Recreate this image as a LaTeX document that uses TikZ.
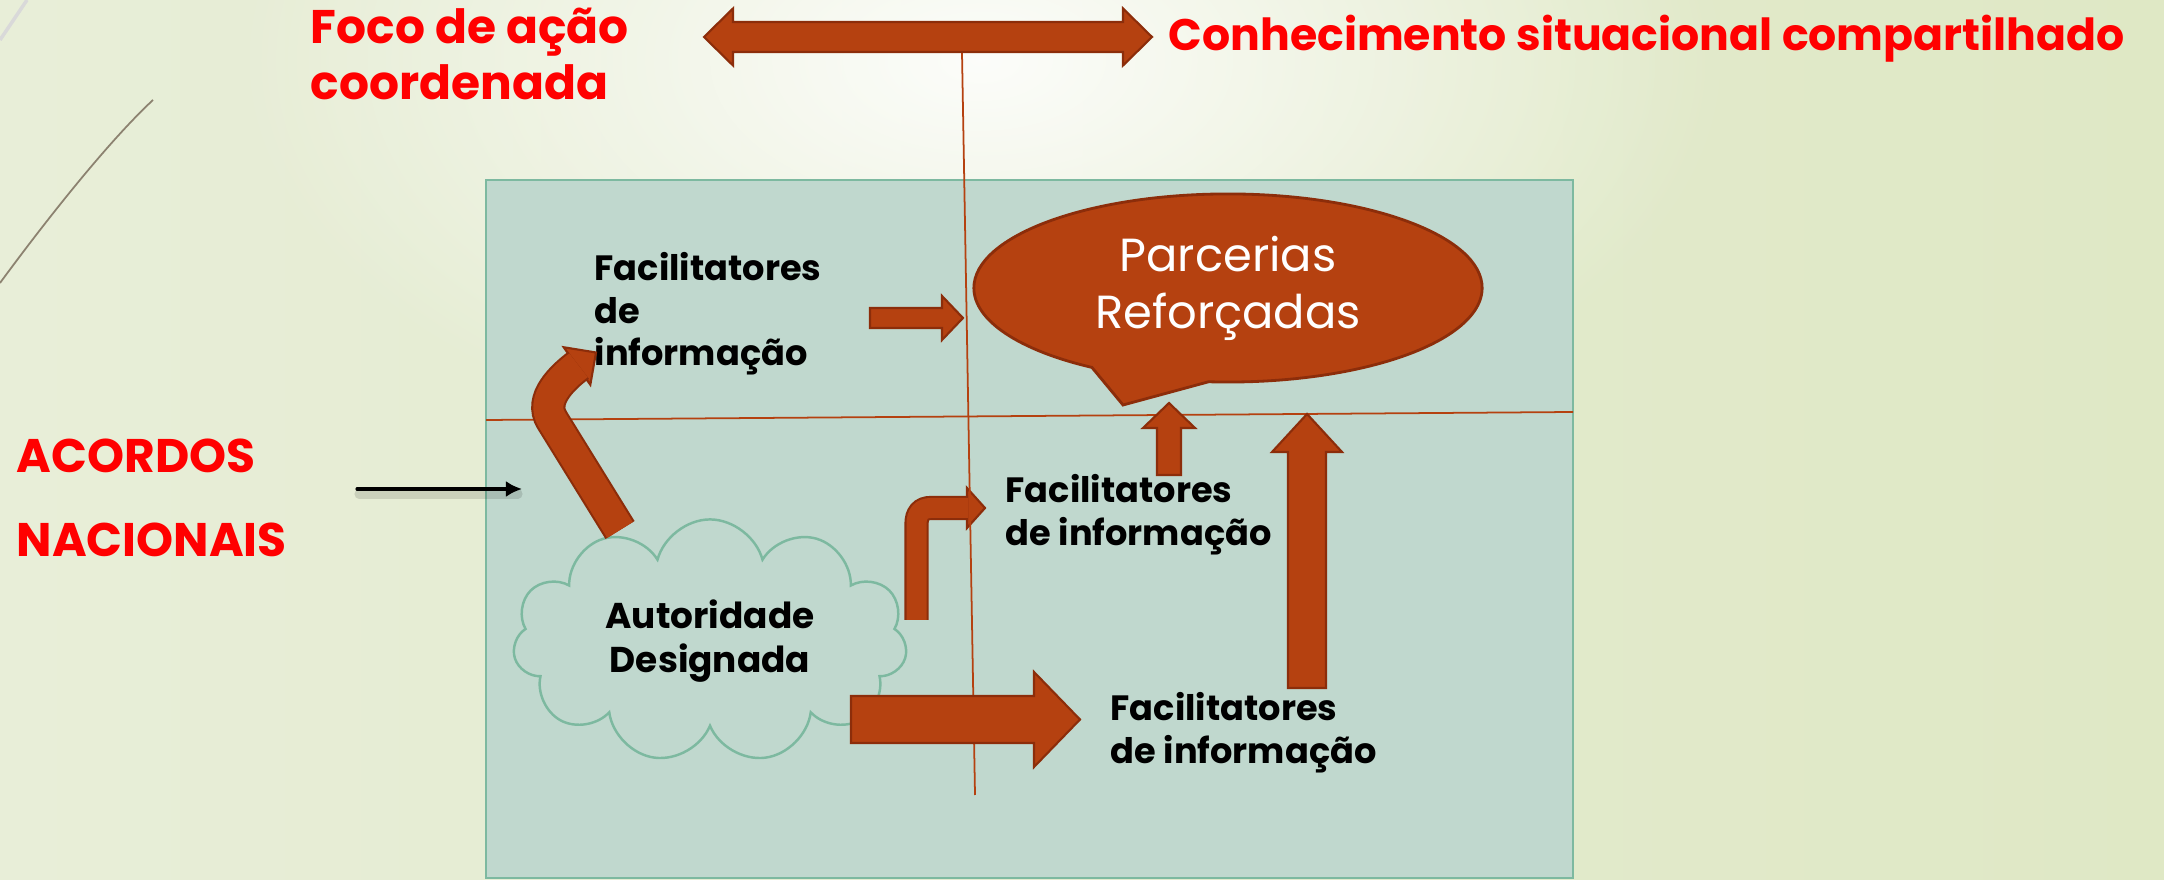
\documentclass[tikz,border=0pt]{standalone}
\usepackage{fontspec}
\setmainfont{Poppins}
\usepackage{tikz}
\usetikzlibrary{calc, positioning, arrows.meta, shapes.callouts, shapes.symbols, fadings}

\definecolor{rust}{HTML}{B54110}
\definecolor{rustdark}{HTML}{8C2D0A}
\definecolor{panel}{HTML}{C0D8CE}
\definecolor{panelline}{HTML}{7DB9A0}
\definecolor{bgleft}{HTML}{E8EED8}
\definecolor{bgmid}{HTML}{FBFCF7}
\definecolor{bgright}{HTML}{DFE8C5}
\definecolor{decoline}{HTML}{8C8270}

\tikzfading[name=topglow, inner color=transparent!0, outer color=transparent!100]

\tikzset{
  blockarrow/.style={fill=rust, draw=rustdark, line width=0.6pt, line join=miter},
  bentshaft/.style={draw=rustdark, double=rust, line width=0.6pt},
  redlabel/.style={text=red, font=\fontsize{13.4}{16}\selectfont\bfseries, align=left, inner sep=0pt, anchor=north west},
  blacklabel/.style={font=\fontsize{10}{12}\selectfont\bfseries, align=left, inner sep=0pt, anchor=north west},
  thinline/.style={draw=rust, line width=0.5pt},
}

% straight block arrow: from, to, half shaft, half head, head length
\newcommand{\fatarrow}[5]{%
  \coordinate (fa-b) at ($(#2)!#5!(#1)$);
  \draw[blockarrow] ($(#1)!#3!90:(#2)$) -- ($(fa-b)!#3!-90:(#1)$) -- ($(fa-b)!#4!-90:(#1)$) -- (#2)
    -- ($(fa-b)!#4!90:(#1)$) -- ($(fa-b)!#3!90:(#1)$) -- ($(#1)!#3!-90:(#2)$) -- cycle;
}
% double block arrow: left tip, right tip, half shaft, half head, head length
\newcommand{\fatdarrow}[5]{%
  \coordinate (fa-a) at ($(#1)!#5!(#2)$);
  \coordinate (fa-b) at ($(#2)!#5!(#1)$);
  \draw[blockarrow] (#1) -- ($(fa-a)!#4!90:(#2)$) -- ($(fa-a)!#3!90:(#2)$) -- ($(fa-b)!#3!-90:(#1)$)
    -- ($(fa-b)!#4!-90:(#1)$) -- (#2) -- ($(fa-b)!#4!90:(#1)$) -- ($(fa-b)!#3!90:(#1)$)
    -- ($(fa-a)!#3!-90:(#2)$) -- ($(fa-a)!#4!-90:(#2)$) -- cycle;
}
% head of a bent arrow: base, tip, half head
\newcommand{\arrowtip}[3]{%
  \draw[blockarrow] (#2) -- ($(#1)!#3!90:(#2)$) -- ($(#1)!#3!-90:(#2)$) -- cycle;
}

\begin{document}
\begin{tikzpicture}[x=0.01cm, y=-0.01cm]
  % Background
  \useasboundingbox (0,0) rectangle (2164,880);
  \shade[left color=bgleft, middle color=bgmid, right color=bgright] (0,0) rectangle (2164,880);
  \fill[white, path fading=topglow, opacity=0.9] (980,60) ellipse [x radius=750, y radius=420];
  \draw[decoline, line width=0.5pt] (153,100) .. controls (110,140) and (50,215) .. (0,283);
  \draw[black!15, line width=1pt] (27,0) -- (0,40);

  % Panel
  \draw[fill=panel, draw=panelline, line width=0.6pt] (486,180) rectangle (1573,878);

  % Titles
  \node[redlabel] (foco) at (310,7) {Foco de ação\\coordenada};
  \node[redlabel, font=\fontsize{12.57}{16}\selectfont\bfseries] (conh) at (1168,14) {Conhecimento situacional compartilhado};
  \node[redlabel, font=\fontsize{13.4}{24}\selectfont\bfseries] (acordos) at (16,438) {ACORDOS\\NACIONAIS};

  % Labels in the panel
  \node[blacklabel] (fac1) at (594,252) {Facilitatores\\de\\informação};
  \node[blacklabel] (fac2) at (1005,474) {Facilitatores\\de informação};
  \node[blacklabel] (fac3) at (1110,692) {Facilitatores\\de informação};
  \node[cloud, cloud puffs=11, aspect=1.62, draw=panelline, line width=0.7pt, minimum width=3.94cm, minimum height=2.43cm,
    inner sep=0pt, align=center, font=\fontsize{10.2}{12.6}\selectfont\bfseries] (auth) at (710,641) {Autoridade\\Designada};
  \node[ellipse callout, callout absolute pointer={(1123,405)}, callout pointer arc=28, fill=rust, draw=rustdark,
    line width=0.8pt, minimum width=5.08cm, minimum height=1.88cm, inner sep=0pt, text=white, align=center,
    font=\fontsize{13.2}{16.2}\selectfont] (parc) at (1228,288) {Parcerias\\Reforçadas};

  % Bent arrow from the cloud to the middle label
  \coordinate (b2-s) at (916.5,620);
  \coordinate (b2-h) at (967,508);
  \coordinate (b2-t) at (985,508);
  \arrowtip{b2-h}{b2-t}{0.2cm}
  \draw[bentshaft, double distance=0.2cm] (b2-s) -- (916.5,524) .. controls (916.5,514) and (921,508) .. (931,508) -- (968,508);

  % Guide lines
  \coordinate (v-top) at (962,53);
  \coordinate (v-bot) at (975,795);
  \coordinate (h-left) at (486,420);
  \coordinate (h-right) at (1573,412);
  \draw[thinline] (v-top) -- (v-bot);
  \draw[thinline] (h-left) -- (h-right);

  % Bent arrow from the cloud to the top label
  \coordinate (b1-s) at (620,530);
  \coordinate (b1-h) at (577,366);
  \coordinate (b1-t) at (596,352.5);
  \arrowtip{b1-h}{b1-t}{0.23cm}
  \draw[bentshaft, double distance=0.3cm] (b1-s) -- (552,420) .. controls (539,399) and (563,377) .. (578.5,365.3);

  % Straight block arrows
  \coordinate (da-l) at (704,37);
  \coordinate (da-r) at (1152,37);
  \fatdarrow{da-l}{da-r}{0.15cm}{0.285cm}{0.29cm}
  \coordinate (a1-s) at (870,318);
  \coordinate (a1-e) at (963,318);
  \fatarrow{a1-s}{a1-e}{0.1cm}{0.22cm}{0.21cm}
  \coordinate (a2-s) at (1169,475);
  \coordinate (a2-e) at (1169,403);
  \fatarrow{a2-s}{a2-e}{0.12cm}{0.26cm}{0.25cm}
  \coordinate (a3-s) at (1307,688);
  \coordinate (a3-e) at (1307,414);
  \fatarrow{a3-s}{a3-e}{0.19cm}{0.35cm}{0.38cm}
  \coordinate (a4-s) at (851,719.5);
  \coordinate (a4-e) at (1080,719.5);
  \fatarrow{a4-s}{a4-e}{0.235cm}{0.475cm}{0.46cm}

  % Arrow from the agreements
  \coordinate (ac-s) at (357,489);
  \coordinate (ac-e) at (522,489);
  \draw[black, opacity=0.12, line width=2.6pt, line cap=round] ($(ac-s)+(2,5)$) -- ($(ac-e)+(-4,5)$);
  \draw[-{Latex[length=4.6pt, width=4.6pt]}, line width=0.9pt, line cap=round] (ac-s) -- (ac-e);
\end{tikzpicture}
\end{document}
